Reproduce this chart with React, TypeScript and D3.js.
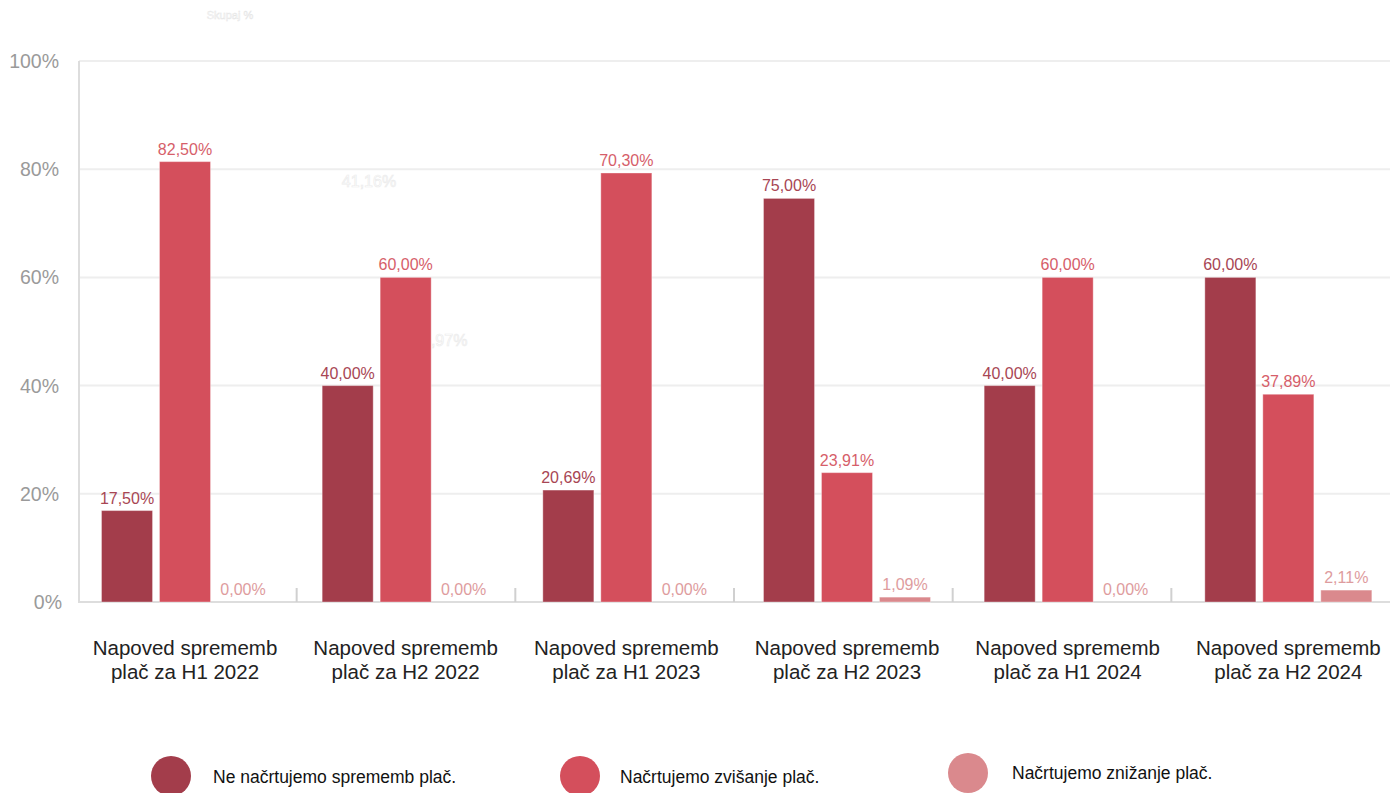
import React from "react";
import * as d3 from "d3";

const categories = [
  ["Napoved sprememb", "plač za H1 2022"],
  ["Napoved sprememb", "plač za H2 2022"],
  ["Napoved sprememb", "plač za H1 2023"],
  ["Napoved sprememb", "plač za H2 2023"],
  ["Napoved sprememb", "plač za H1 2024"],
  ["Napoved sprememb", "plač za H2 2024"],
];
const seriesNames = [
  "Ne načrtujemo sprememb plač.",
  "Načrtujemo zvišanje plač.",
  "Načrtujemo znižanje plač.",
];
// bar heights as drawn in the picture (%)
const noChange = [16.9, 40.0, 20.69, 74.6, 40.0, 60.0];
const increase = [81.4, 60.0, 79.3, 23.91, 60.0, 38.4];
const decrease = [0, 0, 0, 0.9, 0, 2.2];
// value labels as printed
const noChangeLabels = ["17,50%", "40,00%", "20,69%", "75,00%", "40,00%", "60,00%"];
const increaseLabels = ["82,50%", "60,00%", "70,30%", "23,91%", "60,00%", "37,89%"];
const decreaseLabels = ["0,00%", "0,00%", "0,00%", "1,09%", "0,00%", "2,11%"];
const yTicks = [0, 20, 40, 60, 80, 100];

const barColors = ["#A33D4B", "#D44F5C", "#DA898D"];
const labelColors = ["#A84654", "#D65E6A", "#DE9C9E"];

export default function App() {
  const W = 1390;
  const H = 793;
  const series = [noChange, increase, decrease];
  const labels = [noChangeLabels, increaseLabels, decreaseLabels];
  const idx = categories.map((_, i) => String(i));
  const x0 = d3.scaleBand<string>().domain(idx).range([76, 1400]);
  const xTick = d3.scaleBand<string>().domain(idx).range([78, 1390]);
  const x1 = d3
    .scaleBand<string>()
    .domain(["0", "1", "2"])
    .range([25.5, 25.5 + 167])
    .paddingInner(0.12);
  const y = d3.scaleLinear().domain([0, 100]).range([602, 61]);
  const font = "'Liberation Sans', Arial, Helvetica, sans-serif";

  const legendPos = [
    { cx: 171, cy: 776, tx: 213, ty: 783 },
    { cx: 580, cy: 776, tx: 620, ty: 783 },
    { cx: 968, cy: 773, tx: 1012, ty: 779 },
  ];

  return (
    <svg
      width={W}
      height={H}
      style={{ position: "absolute", left: 0, top: 0, background: "#fff" }}
      fontFamily={font}
    >
      {/* gridlines */}
      {yTicks.map((t) => (
        <line
          key={"g" + t}
          x1={79}
          x2={W}
          y1={y(t)}
          y2={y(t)}
          stroke="#eeeeee"
          strokeWidth={2}
        />
      ))}
      {/* y-axis labels */}
      {yTicks.map((t) => (
        <text
          key={"yl" + t}
          x={t === 0 ? 62 : 59}
          y={y(t) + 7}
          textAnchor="end"
          fontSize={19.5}
          fill="#9a9a9a"
        >
          {t + "%"}
        </text>
      ))}
      {/* faint ghost labels */}
      <text x={369} y={187} textAnchor="middle" fontSize={16} fill="#fff" stroke="#ececec" strokeWidth={0.7}>
        41,16%
      </text>
      <text x={422} y={346} fontSize={16} fill="#fff" stroke="#ececec" strokeWidth={0.7}>
        5,97%
      </text>
      <text x={230} y={19} textAnchor="middle" fontSize={11} fill="#fff" stroke="#e6e6e6" strokeWidth={0.5}>
        Skupaj %
      </text>
      {/* axes */}
      <line x1={79} x2={79} y1={61} y2={603} stroke="#dddddd" strokeWidth={2} />
      <line x1={78} x2={W} y1={602} y2={602} stroke="#dddddd" strokeWidth={2} />
      {idx.slice(1).map((c) => (
        <line
          key={"t" + c}
          x1={xTick(c)!}
          x2={xTick(c)!}
          y1={588}
          y2={602}
          stroke="#d0d0d0"
          strokeWidth={2}
        />
      ))}
      {/* bars */}
      {idx.map((c, i) => (
        <g key={"grp" + c} transform={`translate(${x0(c)},0)`}>
          {series.map((s, k) => {
            const v = s[i];
            const bx = x1(String(k))!;
            const bw = x1.bandwidth();
            return (
              <g key={k}>
                {v > 0 && (
                  <rect
                    x={bx}
                    y={y(v)}
                    width={bw}
                    height={y(0) - y(v)}
                    fill={barColors[k]}
                    stroke="#ffffff"
                    strokeOpacity={0.35}
                    strokeWidth={1}
                  />
                )}
                <text
                  x={bx + bw / 2}
                  y={y(v) - 7}
                  textAnchor="middle"
                  fontSize={16}
                  fill={labelColors[k]}
                >
                  {labels[k][i]}
                </text>
              </g>
            );
          })}
        </g>
      ))}
      {/* category labels */}
      {idx.map((c, i) => (
        <text
          key={"cl" + c}
          x={x0(c)! + 25.5 + 167 / 2}
          textAnchor="middle"
          fontSize={20.5}
          fill="#222"
        >
          <tspan x={x0(c)! + 25.5 + 167 / 2} y={655}>
            {categories[i][0]}
          </tspan>
          <tspan x={x0(c)! + 25.5 + 167 / 2} y={679}>
            {categories[i][1]}
          </tspan>
        </text>
      ))}
      {/* legend */}
      {seriesNames.map((n, k) => (
        <g key={"lg" + k}>
          <circle cx={legendPos[k].cx} cy={legendPos[k].cy} r={20} fill={barColors[k]} />
          <text x={legendPos[k].tx} y={legendPos[k].ty} fontSize={17.5} fill="#111">
            {n}
          </text>
        </g>
      ))}
    </svg>
  );
}
